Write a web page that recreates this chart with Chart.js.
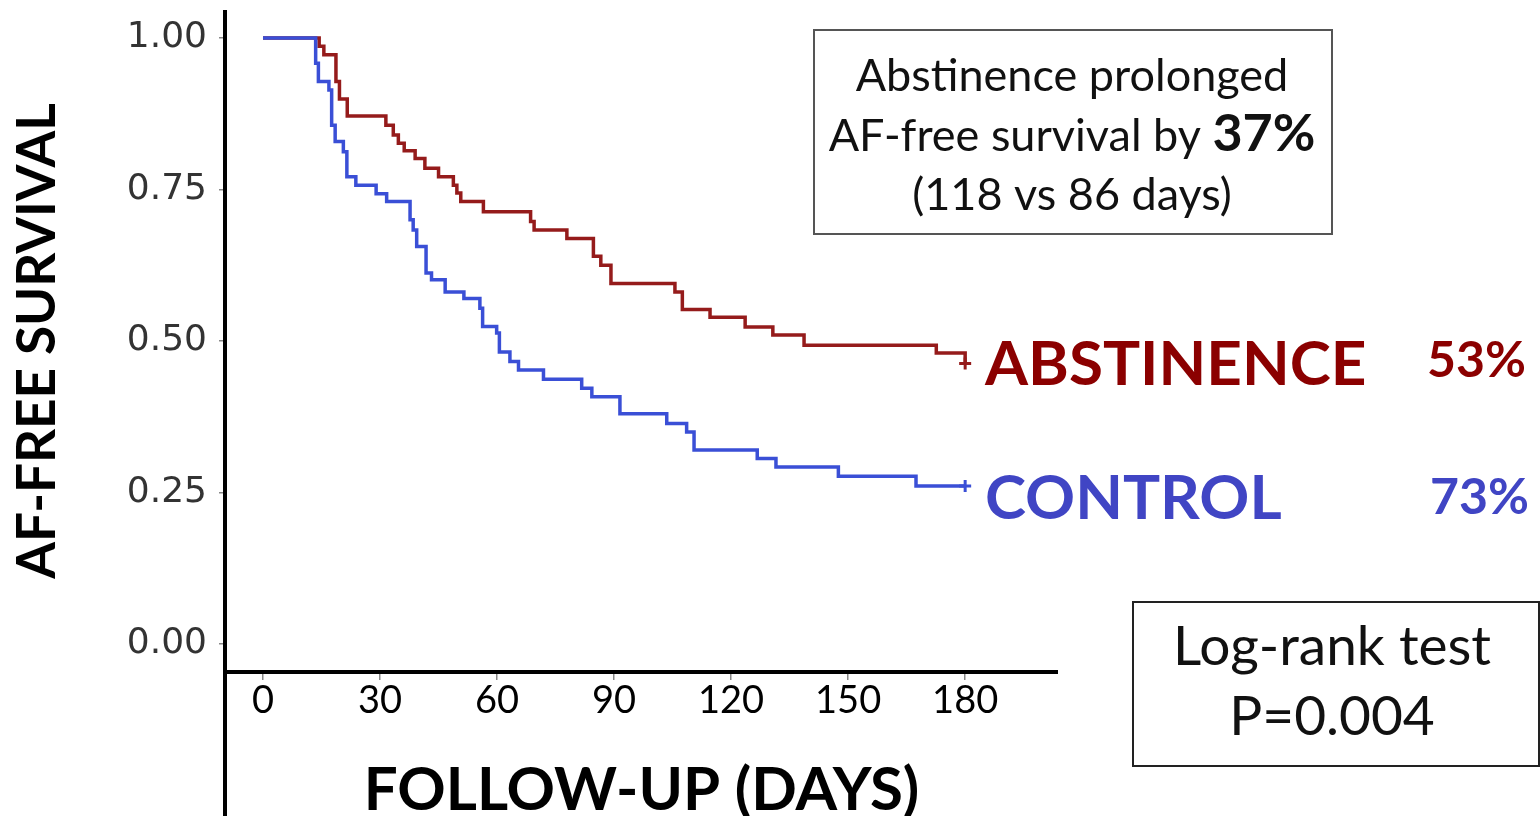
<!DOCTYPE html>
<html>
<head>
<meta charset="utf-8">
<title>AF-free survival</title>
<script src="https://cdn.jsdelivr.net/npm/chart.js@4.4.1/dist/chart.umd.min.js"></script>
<style>
  html, body { margin: 0; padding: 0; background: #fff; }
  #wrap { width: 1540px; height: 816px; }
</style>
</head>
<body>
<div id="wrap"><canvas id="km" width="1540" height="816"></canvas></div>
<script>
// Kaplan-Meier steps (day of event, survival after it)
const controlDays = [0, 13.5, 14.2, 16.9, 17.6, 18.5, 20.6, 21.5, 23.8, 29.0,
    31.7, 37.7, 38.5, 39.4, 41.8, 43.2, 46.7, 51.5, 55.6, 56.3,
    59.9, 60.6, 63.3, 65.5, 71.9, 81.7, 84.3, 91.5, 103.5, 108.6,
    110.5, 126.7, 131.5, 147.5, 167.4, 180];
const controlSurv = [1.0, 0.958, 0.928, 0.914, 0.856, 0.829, 0.812, 0.771, 0.757, 0.743,
    0.730, 0.700, 0.683, 0.656, 0.612, 0.601, 0.581, 0.570, 0.554, 0.524,
    0.513, 0.482, 0.466, 0.452, 0.437, 0.422, 0.408, 0.380, 0.364, 0.350,
    0.320, 0.306, 0.292, 0.277, 0.261, 0.261];

const abstDays = [0, 14.4, 15.6, 18.7, 19.6, 21.6, 31.5, 33.4, 34.7, 36.2,
    39.0, 41.5, 45.0, 48.8, 49.7, 50.7, 56.5, 68.6, 69.5, 77.9,
    84.7, 86.6, 89.2, 105.6, 107.5, 114.6, 123.6, 130.7, 138.7, 172.6,
    180];
const abstSurv = [1.0, 0.986, 0.972, 0.928, 0.899, 0.871, 0.856, 0.840, 0.826, 0.814,
    0.801, 0.785, 0.771, 0.757, 0.744, 0.730, 0.713, 0.697, 0.683, 0.669,
    0.640, 0.625, 0.595, 0.581, 0.552, 0.539, 0.523, 0.510, 0.493, 0.480,
    0.463];

const xTicks = [0, 30, 60, 90, 120, 150, 180];
const yTicks = [0, 0.25, 0.5, 0.75, 1.0];

const RED = '#951b1b';
const BLUE = '#3a4fd6';

function toPoints(xs, ys) {
    return xs.map((x, i) => ({x: x, y: ys[i]}));
}

function lastOnly(size) {
    return ctx => ctx.dataIndex === ctx.dataset.data.length - 1 ? size : 0;
}

function textAt(ctx, str, x, y, font, color, align) {
    ctx.font = font;
    ctx.fillStyle = color;
    ctx.textAlign = align || 'center';
    ctx.textBaseline = 'alphabetic';
    ctx.fillText(str, x, y);
}

const overlay = {
    id: 'overlay',
    afterDraw(chart) {
        const ctx = chart.ctx;
        const area = chart.chartArea;
        ctx.save();

        // axis lines, y axis runs to the bottom edge
        ctx.strokeStyle = '#000';
        ctx.lineWidth = 4;
        ctx.beginPath();
        ctx.moveTo(area.left, area.top);
        ctx.lineTo(area.left, chart.height);
        ctx.moveTo(area.left - 2, area.bottom);
        ctx.lineTo(area.right, area.bottom);
        ctx.stroke();

        // summary box
        ctx.strokeStyle = '#555';
        ctx.lineWidth = 2;
        ctx.strokeRect(814, 30, 518, 204);
        textAt(ctx, 'Abstinence prolonged', 1072, 91, '45px Lato', '#111');
        ctx.font = '45px Lato';
        const w1 = ctx.measureText('AF-free survival by ').width;
        ctx.font = 'bold 52px Lato';
        const w2 = ctx.measureText('37%').width;
        const start = 1072 - (w1 + w2) / 2;
        textAt(ctx, 'AF-free survival by ', start, 151, '45px Lato', '#111', 'left');
        textAt(ctx, '37%', start + w1, 151, 'bold 52px Lato', '#111', 'left');
        textAt(ctx, '(118 vs 86 days)', 1072, 210, '45px Lato', '#111');

        // log-rank box
        ctx.strokeStyle = '#222';
        ctx.strokeRect(1133, 602, 406, 164);
        textAt(ctx, 'Log-rank test', 1332, 665, '55px Lato', '#111');
        textAt(ctx, 'P=0.004', 1332, 735, '55px Lato', '#111');

        // group labels
        textAt(ctx, 'ABSTINENCE', 985, 385, 'bold 62px Lato', '#8b0000', 'left');
        textAt(ctx, '53%', 1427, 377, 'bold 50px Lato', '#8b0000', 'left');
        textAt(ctx, 'CONTROL', 985, 519, 'bold 62px Lato', '#4045c4', 'left');
        textAt(ctx, '73%', 1430, 514, 'bold 50px Lato', '#4045c4', 'left');

        ctx.restore();
    }
};

const canvas = document.getElementById('km');

new Chart(canvas, {
    type: 'line',
    data: {
        datasets: [
            {
                label: 'CONTROL',
                data: toPoints(controlDays, controlSurv),
                borderColor: BLUE,
                backgroundColor: BLUE,
                borderWidth: 3.5,
                stepped: true,
                pointStyle: 'cross',
                pointRadius: lastOnly(6),
                pointBorderWidth: 3,
                pointHoverRadius: 0
            },
            {
                label: 'ABSTINENCE',
                data: toPoints(abstDays, abstSurv),
                borderColor: RED,
                backgroundColor: RED,
                borderWidth: 3.5,
                stepped: true,
                pointStyle: 'cross',
                pointRadius: lastOnly(6),
                pointBorderWidth: 3,
                pointHoverRadius: 0
            }
        ]
    },
    options: {
        responsive: false,
        animation: false,
        layout: {padding: {top: 10, right: 482, left: 0, bottom: 0}},
        plugins: {
            legend: {display: false},
            tooltip: {enabled: false}
        },
        scales: {
            x: {
                type: 'linear',
                min: -9.74,
                max: 203.8,
                afterFit(scale) {
                    scale.height = 144;
                    scale.paddingLeft = 0;
                    scale.paddingRight = 0;
                },
                afterBuildTicks(scale) { scale.ticks = xTicks.map(v => ({value: v})); },
                border: {display: false},
                grid: {drawOnChartArea: false, drawTicks: true, tickLength: 8, color: '#888', lineWidth: 1.5},
                ticks: {
                    padding: -2,
                    color: '#000',
                    font: {family: 'Lato', size: 38},
                    maxRotation: 0,
                    callback: v => String(v)
                },
                title: {
                    display: true,
                    text: 'FOLLOW-UP (DAYS)',
                    color: '#000',
                    font: {family: 'Lato', size: 60, weight: 'bold', lineHeight: 0.8},
                    padding: {top: 0, bottom: 1}
                }
            },
            y: {
                type: 'linear',
                min: -0.046,
                max: 1.046,
                afterFit(scale) {
                    scale.width = 225;
                    scale.paddingTop = 0;
                    scale.paddingBottom = 0;
                },
                afterBuildTicks(scale) { scale.ticks = yTicks.map(v => ({value: v})); },
                border: {display: false},
                grid: {drawOnChartArea: false, drawTicks: true, tickLength: 6, color: '#888', lineWidth: 1.5},
                ticks: {
                    padding: 12,
                    color: '#333',
                    font: {family: 'DejaVu Sans', size: 36},
                    callback: v => v.toFixed(2)
                },
                title: {
                    display: true,
                    text: 'AF-FREE SURVIVAL',
                    color: '#000',
                    font: {family: 'Lato', size: 53, weight: 'bold', lineHeight: 1.2},
                    padding: {top: 6, bottom: 0}
                }
            }
        }
    },
    plugins: [overlay]
});
</script>
</body>
</html>
